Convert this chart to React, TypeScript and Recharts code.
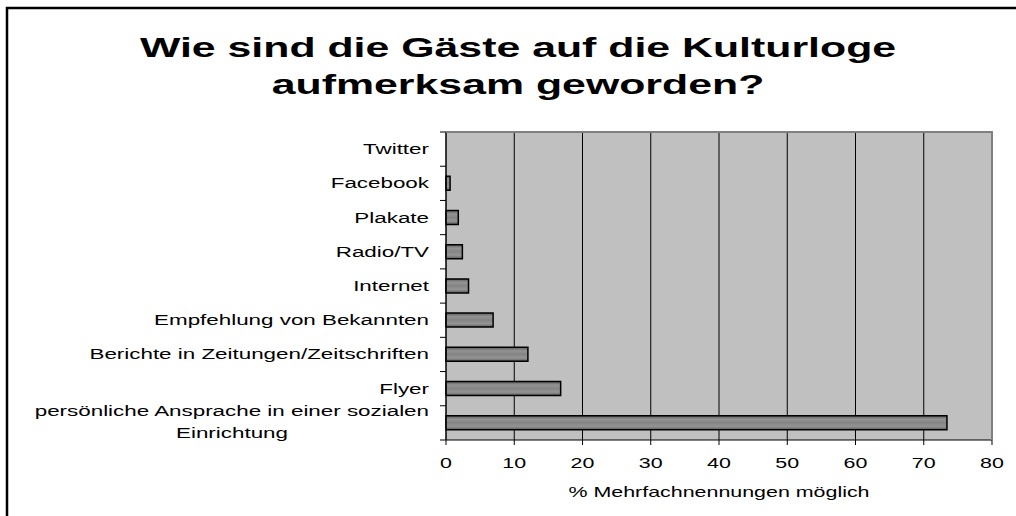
import React from 'react';
import { BarChart, Bar, XAxis, YAxis, CartesianGrid } from 'recharts';

const categories = [
  'Twitter',
  'Facebook',
  'Plakate',
  'Radio/TV',
  'Internet',
  'Empfehlung von Bekannten',
  'Berichte in Zeitungen/Zeitschriften',
  'Flyer',
  'persönliche Ansprache in einer sozialen Einrichtung',
];
const values = [0, 0.6, 1.8, 2.4, 3.3, 6.9, 12.0, 16.8, 73.4];
const xTicks = [0, 10, 20, 30, 40, 50, 60, 70, 80];
const titleLines = ['Wie sind die Gäste auf die Kulturloge', 'aufmerksam geworden?'];
const xAxisLabel = '% Mehrfachnennungen möglich';

const data = categories.map((name, i) => ({ name, value: values[i] }));

const W = 1016;
const H = 516;
const PLOT_LEFT = 446;
const PLOT_RIGHT = 992;
const PLOT_TOP = 132;
const PLOT_BOTTOM = 440;
const BAND = (PLOT_BOTTOM - PLOT_TOP) / categories.length;
const SX = 1.53;
const SY_LABEL = 1.6;
const FONT = 'Liberation Sans, Arial, sans-serif';

const YTick = (props: any) => {
  const { y, payload, index } = props;
  const label: string = payload.value;
  const tx = PLOT_LEFT - 17;
  const isLast = index === categories.length - 1;
  const marks = [
    <line key="a" x1={PLOT_LEFT - 6} x2={PLOT_LEFT} y1={y - BAND / 2} y2={y - BAND / 2} stroke="#000" strokeWidth={1} />,
  ];
  if (isLast) {
    marks.push(
      <line key="b" x1={PLOT_LEFT - 6} x2={PLOT_LEFT} y1={y + BAND / 2} y2={y + BAND / 2} stroke="#000" strokeWidth={1} />
    );
  }
  if (label.startsWith('persönliche')) {
    const l1 = 'persönliche Ansprache in einer sozialen';
    const l2 = 'Einrichtung';
    return (
      <g>
        {marks}
        <text transform={`translate(${tx},${y - 7}) scale(${SY_LABEL},1)`} textAnchor="end" fontFamily={FONT} fontSize={14} fill="#000">
          {l1}
        </text>
        <text transform={`translate(${tx - 197},${y + 15}) scale(${SY_LABEL},1)`} textAnchor="middle" fontFamily={FONT} fontSize={14} fill="#000">
          {l2}
        </text>
      </g>
    );
  }
  return (
    <g>
      {marks}
      <text transform={`translate(${tx},${y + 5}) scale(${SY_LABEL},1)`} textAnchor="end" fontFamily={FONT} fontSize={14} fill="#000">
        {label}
      </text>
    </g>
  );
};

const XTick = (props: any) => {
  const { x, payload } = props;
  return (
    <text transform={`translate(${x},${PLOT_BOTTOM + 28}) scale(${SX},1)`} textAnchor="middle" fontFamily={FONT} fontSize={14} fill="#000">
      {payload.value}
    </text>
  );
};

export default function App() {
  return (
    <div style={{ position: 'absolute', left: 0, top: 0, width: W, height: H, background: '#fff' }}>
      <BarChart
        width={W}
        height={H}
        data={data}
        layout="vertical"
        margin={{ top: PLOT_TOP, right: W - PLOT_RIGHT, bottom: 16, left: 0 }}
        barSize={14}
      >
        <defs>
          <linearGradient id="barGrad" x1="0" y1="0" x2="0" y2="1">
            <stop offset="0%" stopColor="#5e5e5e" />
            <stop offset="25%" stopColor="#939393" />
            <stop offset="50%" stopColor="#848484" />
            <stop offset="75%" stopColor="#959595" />
            <stop offset="100%" stopColor="#5e5e5e" />
          </linearGradient>
        </defs>
        <CartesianGrid fill="#c0c0c0" horizontal={false} stroke="#000" strokeWidth={1} />
        <XAxis
          type="number"
          domain={[0, 80]}
          ticks={xTicks}
          interval={0}
          height={60}
          axisLine={{ stroke: '#000' }}
          tickLine={{ stroke: '#000' }}
          tickSize={5}
          tick={<XTick />}
        />
        <YAxis
          type="category"
          dataKey="name"
          width={PLOT_LEFT}
          axisLine={{ stroke: '#000' }}
          tickLine={false}
          interval={0}
          tick={<YTick />}
        />
        <Bar dataKey="value" fill="url(#barGrad)" stroke="#000" strokeWidth={1.5} isAnimationActive={false} />
      </BarChart>
      <svg width={W} height={H} style={{ position: 'absolute', left: 0, top: 0, pointerEvents: 'none' }}>
        <path d={`M${PLOT_LEFT},${PLOT_TOP} H${PLOT_RIGHT} V${PLOT_BOTTOM}`} fill="none" stroke="#808080" strokeWidth={2} />
        <path d={`M7,${H + 5} V8 H${W + 5}`} fill="none" stroke="#000" strokeWidth={2.5} />
        <text
          transform={`translate(${(PLOT_LEFT + PLOT_RIGHT) / 2},${PLOT_BOTTOM + 57}) scale(${SX},1)`}
          textAnchor="middle"
          fontFamily={FONT}
          fontSize={14}
          fill="#000"
        >
          {xAxisLabel}
        </text>
        {titleLines.map((t, i) => (
          <text
            key={i}
            transform={`translate(518,${57 + i * 37}) scale(${SX},1)`}
            textAnchor="middle"
            fontFamily={FONT}
            fontWeight="bold"
            fontSize={28}
            fill="#000"
          >
            {t}
          </text>
        ))}
      </svg>
    </div>
  );
}
